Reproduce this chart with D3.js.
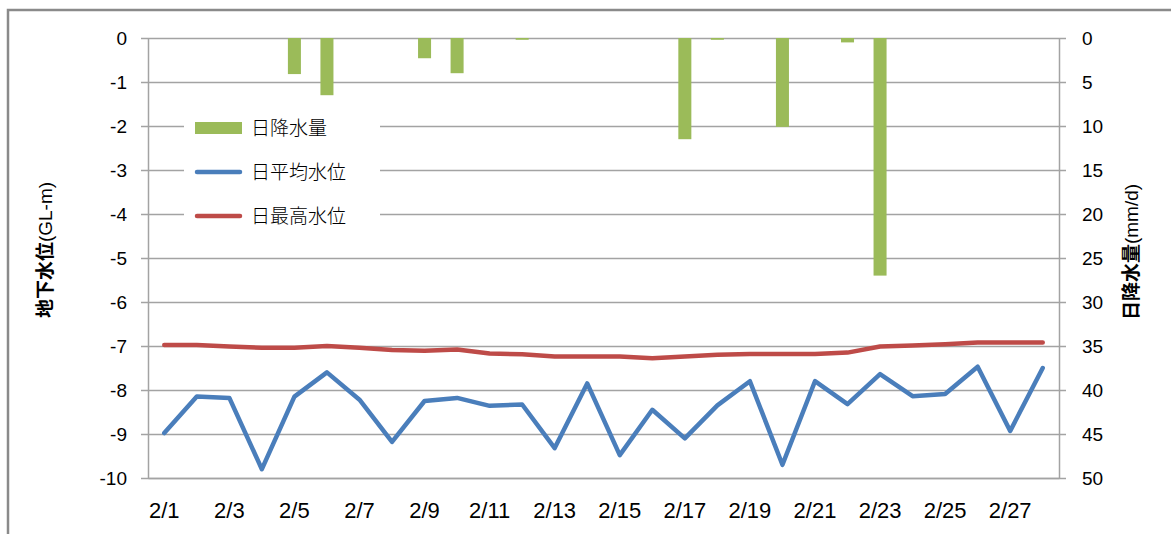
<!DOCTYPE html>
<html>
<head>
<meta charset="utf-8">
<script src="https://cdn.jsdelivr.net/npm/d3@7/dist/d3.min.js"></script>
<style>
  html, body { margin: 0; padding: 0; background: #fff; }
  svg { display: block; }
  .tick text { fill: #000; }
</style>
</head>
<body>
<svg id="chart"></svg>
<script>
'use strict';

// daily values for February
const days = d3.range(1, 29).map(d => `2/${d}`);
const dayLabels = days.filter((d, i) => i % 2 === 0);
const rain = [0, 0, 0, 0, 4.1, 6.5, 0, 0, 2.3, 4.0, 0, 0.2, 0, 0,
  0, 0, 11.5, 0.2, 0, 10.1, 0, 0.5, 27.0, 0, 0, 0, 0, 0];
const meanLevel = [-8.98, -8.15, -8.18, -9.8, -8.15, -7.6, -8.22, -9.18, -8.25, -8.18, -8.36, -8.33, -9.32, -7.85,
  -9.48, -8.45, -9.1, -8.35, -7.8, -9.7, -7.8, -8.32, -7.64, -8.14, -8.09, -7.47, -8.93, -7.5];
const maxLevel = [-6.98, -6.98, -7.01, -7.04, -7.04, -7.0, -7.04, -7.09, -7.11, -7.08, -7.17, -7.19, -7.24, -7.24,
  -7.24, -7.28, -7.24, -7.2, -7.18, -7.18, -7.18, -7.15, -7.01, -6.99, -6.96, -6.92, -6.92, -6.92];
const levelTicks = d3.range(-10, 1);
const rainTicks = d3.range(0, 51, 5);
const legendNames = ['日降水量', '日平均水位', '日最高水位'];

const W = 1171, H = 534;
const plot = { left: 148, right: 1059, top: 38, bottom: 478 };
const colors = { rain: '#9bbb59', mean: '#4a7ebb', max: '#be4b48', grid: '#a3a3a3' };
const tickFont = '"Liberation Sans", Arial, sans-serif';
const cjkFont = '"Noto Sans CJK JP", "Noto Sans CJK SC", sans-serif';

const svg = d3.select('#chart')
    .attr('width', W)
    .attr('height', H);

svg.append('rect')
    .attr('x', 8)
    .attr('y', 10)
    .attr('width', W + 20)
    .attr('height', H + 20)
    .style('fill', '#fff')
    .style('stroke', '#8a8a8a')
    .style('stroke-width', 2.5);

const x = d3.scaleBand()
    .domain(days)
    .range([plot.left, plot.right]);

const yL = d3.scaleLinear()
    .domain([-10, 0])
    .range([plot.bottom, plot.top]);

const yR = d3.scaleLinear()
    .domain([0, 50])
    .range([plot.top, plot.bottom]);

// gridlines
svg.append('g')
    .attr('class', 'grid')
    .attr('transform', `translate(${plot.left}, 0)`)
    .call(d3.axisRight(yL).tickValues(levelTicks).tickSize(plot.right - plot.left).tickFormat(''))
    .call(g => g.select('.domain').remove())
    .call(g => g.selectAll('line').style('stroke', colors.grid).style('stroke-width', 1.5));

// left axis (plain hyphen minus, as in the source)
svg.append('g')
    .attr('class', 'y-axis')
    .attr('transform', `translate(${plot.left}, 0)`)
    .call(d3.axisLeft(yL).tickValues(levelTicks).tickFormat(d => String(d))
        .tickSize(7).tickSizeOuter(0).tickPadding(14))
    .call(g => g.selectAll('path, line').style('stroke', colors.grid).style('stroke-width', 1.5))
    .call(g => g.selectAll('text').style('font-family', tickFont).style('font-size', '19px'));

// right axis
svg.append('g')
    .attr('class', 'y2-axis')
    .attr('transform', `translate(${plot.right}, 0)`)
    .call(d3.axisRight(yR).tickValues(rainTicks).tickSize(7).tickSizeOuter(0).tickPadding(16))
    .call(g => g.selectAll('path, line').style('stroke', colors.grid).style('stroke-width', 1.5))
    .call(g => g.selectAll('text').style('font-family', tickFont).style('font-size', '19px'));

// bottom axis
svg.append('g')
    .attr('class', 'x-axis')
    .attr('transform', `translate(0, ${plot.bottom})`)
    .call(d3.axisBottom(x).tickValues(dayLabels).tickSize(0).tickSizeOuter(0).tickPadding(24))
    .call(g => g.select('.domain').style('stroke', colors.grid).style('stroke-width', 1.5))
    .call(g => g.selectAll('text')
        .style('font-family', '"Liberation Sans Narrow", "Liberation Sans", sans-serif')
        .style('font-size', '22px'));

// rain bars hanging from the top
const barW = x.bandwidth() * 0.4;
svg.append('g')
    .selectAll('rect')
    .data(rain)
  .enter().append('rect')
    .attr('x', (d, i) => x(days[i]) + (x.bandwidth() - barW) / 2)
    .attr('y', yR(0))
    .attr('width', barW)
    .attr('height', d => yR(d) - yR(0))
    .style('fill', colors.rain);

const line = d3.line()
    .x((d, i) => x(days[i]) + x.bandwidth() / 2)
    .y(d => yL(d));

svg.append('path')
    .datum(maxLevel)
    .attr('d', line)
    .style('fill', 'none')
    .style('stroke', colors.max)
    .style('stroke-width', 4.5)
    .style('stroke-linejoin', 'round')
    .style('stroke-linecap', 'round');

svg.append('path')
    .datum(meanLevel)
    .attr('d', line)
    .style('fill', 'none')
    .style('stroke', colors.mean)
    .style('stroke-width', 4.5)
    .style('stroke-linejoin', 'round')
    .style('stroke-linecap', 'round');

// legend
const legend = svg.append('g')
    .attr('transform', 'translate(184, 106)');

legend.append('rect')
    .attr('width', 196)
    .attr('height', 128)
    .style('fill', '#fff');

const item = legend.selectAll('.item')
    .data(legendNames)
  .enter().append('g')
    .attr('class', 'item')
    .attr('transform', (d, i) => `translate(0, ${22 + i * 44})`);

item.each(function(d, i) {
  const g = d3.select(this);
  if (i === 0) {
    g.append('rect')
        .attr('x', 11)
        .attr('y', -6)
        .attr('width', 47)
        .attr('height', 12)
        .style('fill', colors.rain);
  } else {
    g.append('line')
        .attr('x1', 13)
        .attr('x2', 56)
        .style('stroke', i === 1 ? colors.mean : colors.max)
        .style('stroke-width', 4.5)
        .style('stroke-linecap', 'round');
  }
});

item.append('text')
    .attr('x', 67)
    .attr('dy', '0.36em')
    .style('font-family', cjkFont)
    .style('font-size', '19px')
    .style('font-weight', 300)
    .text(d => d);

// axis titles: CJK part bold, unit part regular
function axisTitle(tx, ty, main, unit) {
  const t = svg.append('text')
      .attr('transform', `translate(${tx}, ${ty}) rotate(-90)`)
      .attr('text-anchor', 'middle')
      .style('font-family', cjkFont)
      .style('font-size', '19px');
  t.append('tspan').style('font-weight', 'bold').text(main);
  t.append('tspan').style('font-family', tickFont).text(unit);
}

axisTitle(52, 250, '地下水位', '(GL-m)');
axisTitle(1138, 252, '日降水量', '(mm/d)');
</script>
</body>
</html>
